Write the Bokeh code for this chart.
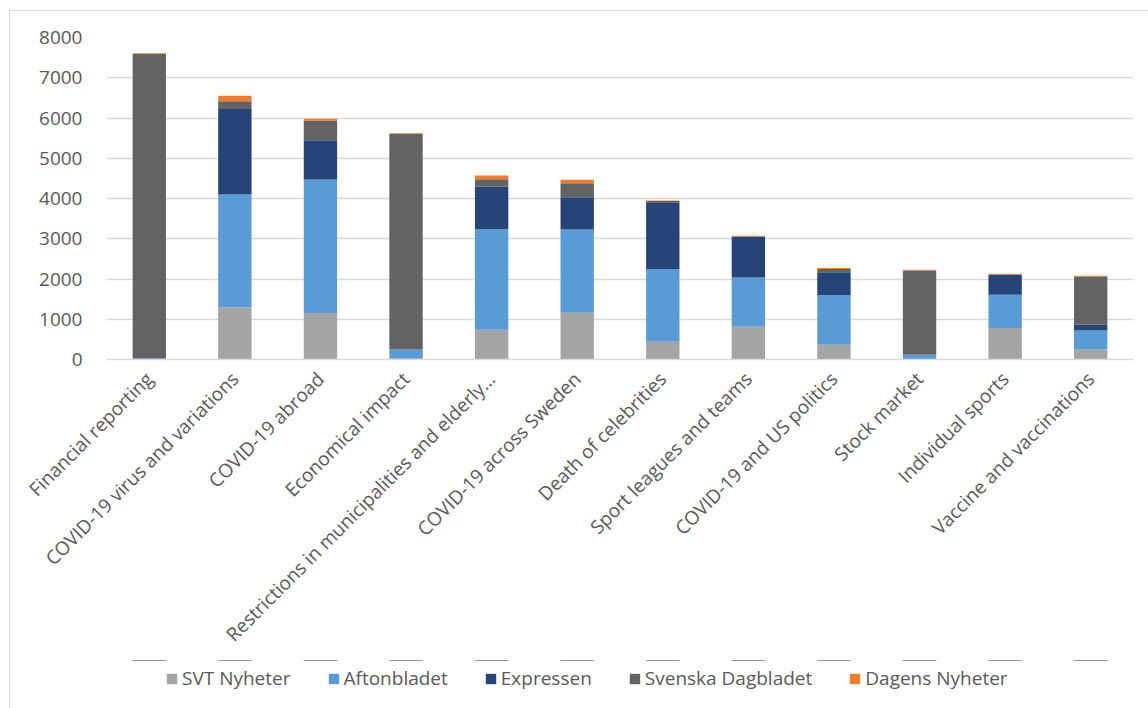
from math import pi

from bokeh.embed import file_html
from bokeh.layouts import column
from bokeh.models import (ColumnDataSource, FactorRange, FixedTicker, Legend,
                          LegendItem, Range1d)
from bokeh.plotting import figure
from bokeh.resources import INLINE

# Topics, in the order they appear along the x axis
topics = [
    "Financial reporting",
    "COVID-19 virus and variations",
    "COVID-19 abroad",
    "Economical impact",
    "Restrictions in municipalities and elderly…",
    "COVID-19 across Sweden",
    "Death of celebrities",
    "Sport leagues and teams",
    "COVID-19 and US politics",
    "Stock market",
    "Individual sports",
    "Vaccine and vaccinations",
]

# Number of articles per outlet and topic
svt_nyheter = [5, 1300, 1155, 40, 740, 1160, 440, 815, 365, 10, 780, 250]
aftonbladet = [35, 2800, 3315, 210, 2505, 2070, 1810, 1225, 1235, 105, 830, 470]
expressen = [0, 2125, 980, 0, 1045, 800, 1655, 1005, 565, 0, 490, 150]
svenska_dagbladet = [7550, 190, 480, 5355, 190, 350, 30, 10, 85, 2095, 10, 1185]
dagens_nyheter = [20, 135, 50, 15, 90, 85, 15, 20, 25, 20, 20, 25]

outlets = ["SVT Nyheter", "Aftonbladet", "Expressen", "Svenska Dagbladet", "Dagens Nyheter"]
colors = ["#A5A5A5", "#5B9BD5", "#264478", "#636363", "#ED7D31"]
y_ticks = [0, 1000, 2000, 3000, 4000, 5000, 6000, 7000, 8000]

source = ColumnDataSource(dict(
    topic=topics,
    svt=svt_nyheter,
    afton=aftonbladet,
    exp=expressen,
    svd=svenska_dagbladet,
    dn=dagens_nyheter,
))
keys = ["svt", "afton", "exp", "svd", "dn"]

FONT = "Open Sans"
TEXT = "#595959"
GRID = "#D9D9D9"
BORDER = "1.5px solid #D9D9D9"

# Main chart
p = figure(
    x_range=FactorRange(*topics, range_padding=0),
    y_range=Range1d(0, 8000),
    width=1139, height=650,
    output_backend="svg", toolbar_location=None,
    min_border_left=96, min_border_right=16,
    min_border_top=26, min_border_bottom=302,
    background_fill_color="white", border_fill_color="white",
)
p.margin = (10, 0, 0, 9)
p.styles = {"border-left": BORDER, "border-top": BORDER}
p.outline_line_color = None

p.vbar_stack(
    keys, x="topic", width=0.39, source=source,
    fill_color=colors, line_color=None,
)

p.yaxis.ticker = FixedTicker(ticks=y_ticks)
p.yaxis.axis_line_color = None
p.yaxis.major_tick_line_color = None
p.yaxis.minor_tick_line_color = None
p.yaxis.major_label_standoff = 18
p.yaxis.major_label_text_font = FONT
p.yaxis.major_label_text_font_size = "19px"
p.yaxis.major_label_text_color = TEXT

p.xaxis.axis_line_color = GRID
p.xaxis.axis_line_width = 1.5
p.xaxis.major_tick_line_color = None
p.xaxis.minor_tick_line_color = None
p.xaxis.major_label_orientation = pi / 4
p.xaxis.major_label_standoff = 10
p.xaxis.major_label_text_font = FONT
p.xaxis.major_label_text_font_size = "19px"
p.xaxis.major_label_text_color = TEXT

p.xgrid.grid_line_color = None
p.ygrid.grid_line_color = GRID
p.ygrid.grid_line_width = 1.5

# Legend strip: same series styles; its y range lies far below the stacks,
# so only the legend swatches and labels are visible
lg = figure(
    x_range=FactorRange(*topics, range_padding=0),
    y_range=Range1d(-2000000, -1000000),
    width=1139, height=48,
    output_backend="svg", toolbar_location=None,
    min_border=0,
    background_fill_color="white", border_fill_color="white",
)
lg.margin = (0, 0, 0, 9)
lg.styles = {"border-left": BORDER}
lg.outline_line_color = None
lg.axis.visible = False
lg.grid.visible = False

legend_renderers = lg.vbar_stack(
    keys, x="topic", width=0.39, source=source,
    fill_color=colors, line_color=None,
)
items = [LegendItem(label=name, renderers=[r]) for name, r in zip(outlets, legend_renderers)]
legend = Legend(
    items=items, orientation="horizontal", location=(59, 17),
    glyph_width=13, glyph_height=13, label_standoff=4, spacing=36,
    padding=0, margin=0, border_line_color=None, background_fill_alpha=0,
    label_text_font=FONT, label_text_font_size="19px", label_text_color=TEXT,
)
lg.add_layout(legend)

layout = column(p, lg, spacing=0)
open("out.html", "w").write(file_html(layout, INLINE))
